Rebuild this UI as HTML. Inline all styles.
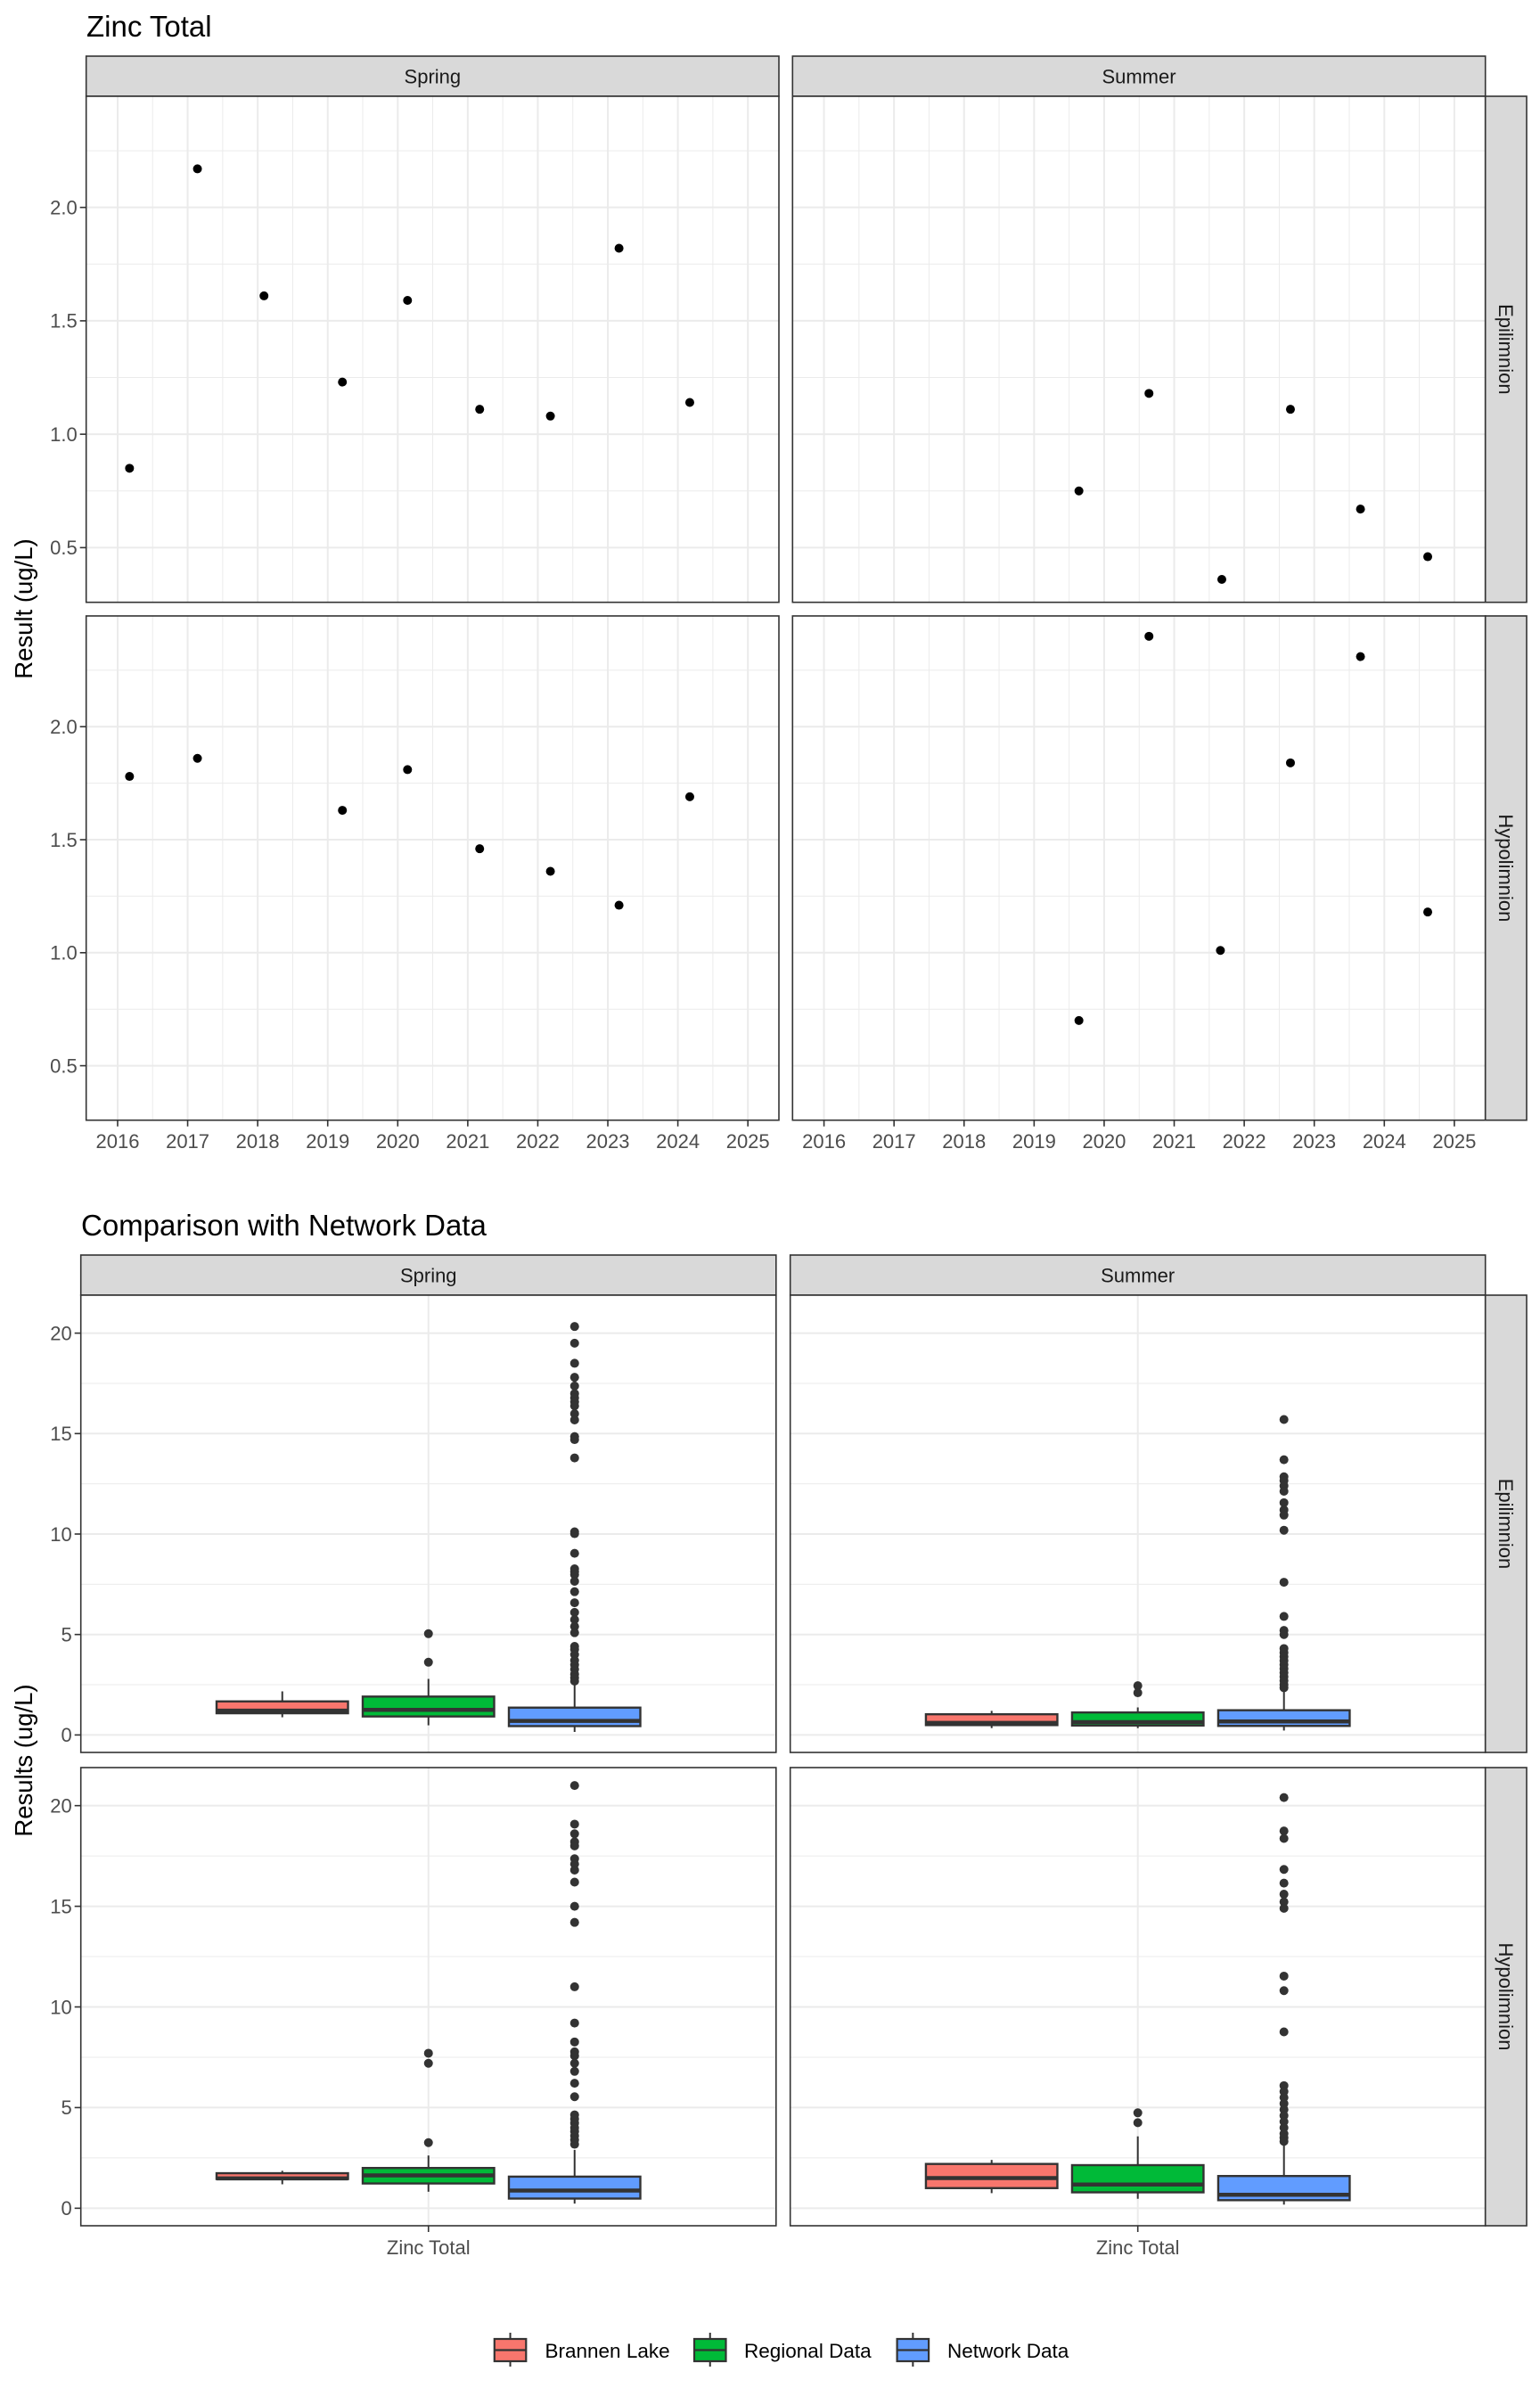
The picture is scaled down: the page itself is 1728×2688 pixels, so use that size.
<!DOCTYPE html>
<html><head><meta charset="utf-8">
<style>
html,body{margin:0;padding:0;background:#fff;}
svg{display:block;font-family:"Liberation Sans",Arial,sans-serif;}
</style></head>
<body>
<svg id="chart" width="1728" height="2688" viewBox="0 0 1728 2688" xmlns="http://www.w3.org/2000/svg">
<rect x="0" y="0" width="1728" height="2688" fill="#fff"/>
</svg>
<script>
// ---------- Top chart data (time series) ----------
const seasons = ["Spring","Summer"];
const depths = ["Epilimnion","Hypolimnion"];
const yearTicks = [2016,2017,2018,2019,2020,2021,2022,2023,2024,2025];
const resultTicks = [0.5,1.0,1.5,2.0];
const resultTickLabels = ["0.5","1.0","1.5","2.0"];
const springEpiYears = [2016.17,2017.14,2018.09,2019.21,2020.14,2021.17,2022.18,2023.16,2024.17];
const springEpiValues = [0.85,2.17,1.61,1.23,1.59,1.11,1.08,1.82,1.14];
const springHypoYears = [2016.17,2017.14,2019.21,2020.14,2021.17,2022.18,2023.16,2024.17];
const springHypoValues = [1.78,1.86,1.63,1.81,1.46,1.36,1.21,1.69];
const summerEpiYears = [2019.64,2020.64,2021.68,2022.66,2023.66,2024.62];
const summerEpiValues = [0.75,1.18,0.36,1.11,0.67,0.46];
const summerHypoYears = [2019.64,2020.64,2021.66,2022.66,2023.66,2024.62];
const summerHypoValues = [0.70,2.40,1.01,1.84,2.31,1.18];

// ---------- Bottom chart data (boxplots) ----------
const groups = ["Brannen Lake","Regional Data","Network Data"];
const groupColors = ["#F8766D","#00BA38","#619CFF"];
const compTicks = [0,5,10,15,20];
const compTickLabels = ["0","5","10","15","20"];
// [lowWhisker, q1, median, q3, highWhisker] per group
const springEpiBoxes = [[0.88,1.08,1.21,1.67,2.17],[0.48,0.92,1.25,1.91,2.79],[0.15,0.44,0.70,1.36,2.65]];
const springHypoBoxes = [[1.19,1.45,1.48,1.74,1.86],[0.82,1.23,1.63,2.00,2.62],[0.23,0.48,0.88,1.57,2.90]];
const summerEpiBoxes = [[0.34,0.49,0.60,1.03,1.20],[0.34,0.47,0.64,1.12,1.37],[0.22,0.45,0.67,1.23,2.25]];
const summerHypoBoxes = [[0.75,1.00,1.50,2.20,2.40],[0.47,0.79,1.18,2.14,3.57],[0.18,0.40,0.67,1.60,3.25]];
const springEpiOutliers = [[],[5.04,3.62],[20.33,19.5,18.5,17.8,17.37,16.99,16.78,16.58,16.38,15.99,15.68,14.85,14.7,13.79,10.11,10.02,9.04,8.27,8.13,7.98,7.65,7.13,6.58,6.1,5.74,5.4,5.09,4.41,4.26,4.0,3.71,3.49,3.27,3.03,2.85,2.68]];
const springHypoOutliers = [[],[7.7,7.2,3.26],[21.0,19.08,18.6,18.2,18.0,17.36,17.1,16.8,16.2,15.0,14.2,11.0,9.2,8.26,7.77,7.57,7.2,6.8,6.21,5.54,4.64,4.43,4.23,4.0,3.81,3.6,3.39,3.18]];
const summerEpiOutliers = [[],[2.45,2.1],[15.7,13.7,12.85,12.66,12.4,12.13,11.56,11.2,10.94,10.19,7.6,5.9,5.2,5.0,4.3,4.1,3.9,3.7,3.5,3.3,3.1,2.9,2.7,2.5,2.35]];
const summerHypoOutliers = [[],[4.74,4.25],[20.4,18.74,18.37,16.83,16.15,15.6,15.22,14.9,11.53,10.81,8.76,6.09,5.8,5.5,5.2,4.9,4.6,4.3,4.0,3.7,3.5,3.32]];

// ---------- helpers ----------
const NS = "http://www.w3.org/2000/svg";
const svg = document.getElementById("chart");
function mk(tag, attrs, parent){
  const e = document.createElementNS(NS, tag);
  for (const k in attrs) e.setAttribute(k, attrs[k]);
  (parent||svg).appendChild(e);
  return e;
}
function txt(s, attrs, parent){ const e = mk("text", attrs, parent); e.textContent = s; return e; }
function lin(d0,d1,r0,r1){ return v => r0 + (v-d0)/(d1-d0)*(r1-r0); }

// ---------- TOP CHART ----------
const tCols = [[96.7,874],[889.3,1666.7]];
const tRows = [[108,675.7],[691,1256.7]];
const tStripTop = 63;
const tXDom = [2015.551, 2025.443];
const tYDom = [0.259, 2.49];
const topSeries = [[[springEpiYears,springEpiValues],[springHypoYears,springHypoValues]],
                   [[summerEpiYears,summerEpiValues],[summerHypoYears,summerHypoValues]]];

let t = txt("Zinc Total", {x:97, y:41, "font-size":33, fill:"#000"});
 

t = txt("Result (ug/L)", {x:0,y:0,"font-size":27.5,fill:"#000","text-anchor":"middle",transform:"translate(36,683) rotate(-90)"});
 

for (let c=0;c<2;c++){
  const [x0,x1] = tCols[c];
  const xs = lin(tXDom[0],tXDom[1],x0,x1);
  // strip
  let s = mk("rect",{x:x0,y:tStripTop,width:x1-x0,height:tRows[0][0]-tStripTop,fill:"#d9d9d9",stroke:"#333",'stroke-width':1.6});
   
  txt(seasons[c],{x:(x0+x1)/2,y:tStripTop+30.5,"font-size":22,fill:"#1a1a1a","text-anchor":"middle"});
  for (let r=0;r<2;r++){
    const [y0,y1] = tRows[r];
    const ys = lin(tYDom[0],tYDom[1],y1,y0);
    const g = mk("g",{});
    
    
    mk("rect",{x:x0,y:y0,width:x1-x0,height:y1-y0,fill:"#fff"},g);
    // minor grid
    for (let i=0;i<yearTicks.length+1;i++){
      const v = yearTicks[0]-0.5+i;
      if (v>tXDom[0] && v<tXDom[1]) mk("line",{x1:xs(v),x2:xs(v),y1:y0,y2:y1,stroke:"#ebebeb","stroke-width":1},g);
    }
    for (let v=0.25; v<2.6; v+=0.5){
      if (v>tYDom[0]&&v<tYDom[1]) mk("line",{x1:x0,x2:x1,y1:ys(v),y2:ys(v),stroke:"#ebebeb","stroke-width":1},g);
    }
    // major grid
    yearTicks.forEach(v=>mk("line",{x1:xs(v),x2:xs(v),y1:y0,y2:y1,stroke:"#ebebeb","stroke-width":2},g));
    resultTicks.forEach(v=>mk("line",{x1:x0,x2:x1,y1:ys(v),y2:ys(v),stroke:"#ebebeb","stroke-width":2},g));
    // points
    const [yrs,vals] = topSeries[c][r];
    for (let i=0;i<yrs.length;i++){
      const p = mk("circle",{cx:xs(yrs[i]),cy:ys(vals[i]),r:5,fill:"#000"},g);
      
      
    }
    mk("rect",{x:x0,y:y0,width:x1-x0,height:y1-y0,fill:"none",stroke:"#333","stroke-width":1.6},g);
    // y axis labels on left col
    if (c===0){
      resultTicks.forEach((v,i)=>{
        mk("line",{x1:x0-7,x2:x0,y1:ys(v),y2:ys(v),stroke:"#333","stroke-width":1.6});
        const lb = txt(resultTickLabels[i],{x:x0-10,y:ys(v)+7.8,"font-size":22,fill:"#4d4d4d","text-anchor":"end"});
         
      });
    }
    // right strip
    if (c===1){
      const rs = mk("rect",{x:1666.7,y:y0,width:46.3,height:y1-y0,fill:"#d9d9d9",stroke:"#333","stroke-width":1.6});
       
      txt(depths[r],{x:0,y:0,"font-size":22,fill:"#1a1a1a","text-anchor":"middle",transform:`translate(${1690-8},${(y0+y1)/2}) rotate(90)`});
    }
  }
  // x ticks
  const yb = tRows[1][1];
  yearTicks.forEach(v=>{
    mk("line",{x1:xs(v),x2:xs(v),y1:yb,y2:yb+7,stroke:"#333","stroke-width":1.6});
    const lb = txt(String(v),{x:xs(v),y:1288,"font-size":22,fill:"#4d4d4d","text-anchor":"middle"});
     
  });
}

// ---------- BOTTOM CHART ----------
const bCols = [[90.7,870.8],[886.7,1666.7]];
const bRows = [[1453,1966],[1983,2497]];
const bStripTop = 1408;
const bYDom = [-0.87, 21.89];
const boxData = [[springEpiBoxes,springHypoBoxes],[summerEpiBoxes,summerHypoBoxes]];
const outData = [[springEpiOutliers,springHypoOutliers],[summerEpiOutliers,summerHypoOutliers]];
const dodge = 164, boxW = 147.5;

t = txt("Comparison with Network Data", {x:91, y:1386, "font-size":33, fill:"#000"});
 
t = txt("Results (ug/L)", {x:0,y:0,"font-size":27.5,fill:"#000","text-anchor":"middle",transform:"translate(36,1975) rotate(-90)"});
 

for (let c=0;c<2;c++){
  const [x0,x1] = bCols[c];
  const cx = (x0+x1)/2;
  let s = mk("rect",{x:x0,y:bStripTop,width:x1-x0,height:bRows[0][0]-bStripTop,fill:"#d9d9d9",stroke:"#333",'stroke-width':1.6});
   
  txt(seasons[c],{x:cx,y:bStripTop+30.5,"font-size":22,fill:"#1a1a1a","text-anchor":"middle"});
  for (let r=0;r<2;r++){
    const [y0,y1] = bRows[r];
    const ys = lin(bYDom[0],bYDom[1],y1,y0);
    const g = mk("g",{});
    
    
    mk("rect",{x:x0,y:y0,width:x1-x0,height:y1-y0,fill:"#fff"},g);
    for (let v=2.5; v<22; v+=5) mk("line",{x1:x0,x2:x1,y1:ys(v),y2:ys(v),stroke:"#ebebeb","stroke-width":1},g);
    compTicks.forEach(v=>mk("line",{x1:x0,x2:x1,y1:ys(v),y2:ys(v),stroke:"#ebebeb","stroke-width":2},g));
    mk("line",{x1:cx,x2:cx,y1:y0,y2:y1,stroke:"#ebebeb","stroke-width":2},g);
    const boxes = boxData[c][r], outs = outData[c][r];
    for (let k=0;k<3;k++){
      const bx = cx + (k-1)*dodge;
      const [lo,q1,md,q3,hi] = boxes[k];
      const bg = mk("g",{},g);
      
      
      mk("line",{x1:bx,x2:bx,y1:ys(hi),y2:ys(q3),stroke:"#333","stroke-width":2},bg);
      mk("line",{x1:bx,x2:bx,y1:ys(q1),y2:ys(lo),stroke:"#333","stroke-width":2},bg);
      mk("rect",{x:bx-boxW/2,y:ys(q3),width:boxW,height:ys(q1)-ys(q3),fill:groupColors[k],stroke:"#333","stroke-width":2.4},bg);
      mk("line",{x1:bx-boxW/2,x2:bx+boxW/2,y1:ys(md),y2:ys(md),stroke:"#333","stroke-width":4.5},bg);
      outs[k].forEach(v=>{
        const o = mk("circle",{cx:bx,cy:ys(v),r:5,fill:"#333"},bg);
         
      });
    }
    mk("rect",{x:x0,y:y0,width:x1-x0,height:y1-y0,fill:"none",stroke:"#333","stroke-width":1.6},g);
    if (c===0){
      compTicks.forEach((v,i)=>{
        mk("line",{x1:x0-7,x2:x0,y1:ys(v),y2:ys(v),stroke:"#333","stroke-width":1.6});
        const lb = txt(compTickLabels[i],{x:x0-10,y:ys(v)+7.8,"font-size":22,fill:"#4d4d4d","text-anchor":"end"});
         
      });
    }
    if (c===1){
      const rs = mk("rect",{x:1666.7,y:y0,width:46.3,height:y1-y0,fill:"#d9d9d9",stroke:"#333","stroke-width":1.6});
       
      txt(depths[r],{x:0,y:0,"font-size":22,fill:"#1a1a1a","text-anchor":"middle",transform:`translate(1682,${(y0+y1)/2}) rotate(90)`});
    }
  }
  const yb = bRows[1][1];
  mk("line",{x1:cx,x2:cx,y1:yb,y2:yb+7,stroke:"#333","stroke-width":1.6});
  const lb = txt("Zinc Total",{x:cx,y:2529,"font-size":22,fill:"#4d4d4d","text-anchor":"middle"});
   
}

// ---------- Legend ----------
const legKeyX = [554.8, 779, 1006.6];
const legTextX = [611.5, 835, 1063];
const lg = mk("g",{});
 
for (let k=0;k<3;k++){
  const e = mk("g",{},lg);
  
  
  const kx = legKeyX[k], kw = 35.5, mx = kx+kw/2;
  mk("line",{x1:mx,x2:mx,y1:2617,y2:2655,stroke:"#333","stroke-width":2},e);
  mk("rect",{x:kx,y:2624,width:kw,height:25,fill:groupColors[k],stroke:"#333","stroke-width":2.2},e);
  mk("line",{x1:kx,x2:kx+kw,y1:2636.5,y2:2636.5,stroke:"#333","stroke-width":2.2},e);
  txt(groups[k],{x:legTextX[k],y:2645,"font-size":22.5,fill:"#000"},e);
}
</script>
</body></html>
